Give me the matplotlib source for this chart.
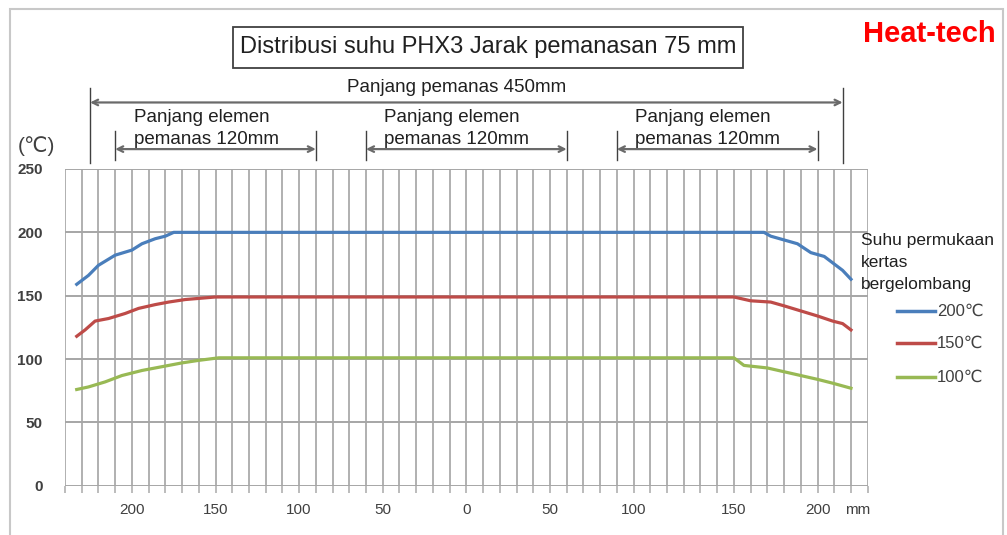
import numpy as np
import matplotlib
matplotlib.use('Agg')
import matplotlib.pyplot as plt
from matplotlib.patches import Rectangle

plt.rcParams['font.family'] = ['Liberation Sans', 'DejaVu Sans']

# === data (x in mm from heater centre, y in degC) ===
blue_x = [-233, -226, -220, -210, -200, -194, -186, -180, -175, 178, 182, 190, 198, 206, 214, 219, 225, 230]
blue_y = [159, 166, 174, 182, 186, 191, 195, 197, 200, 200, 197, 194, 191, 184, 181, 176, 170, 163]

red_x = [-233, -228, -222, -214, -204, -196, -186, -178, -168, -150, -138, 160, 170, 182, 190, 200, 210, 219, 225, 230]
red_y = [118, 123, 130, 132, 136, 140, 143, 145, 147, 149, 149, 149, 146, 145, 142, 138, 134, 130, 128, 123]

green_x = [-233, -226, -216, -206, -194, -182, -170, -160, -148, -138, 160, 166, 180, 190, 200, 210, 219, 230]
green_y = [76, 78, 82, 87, 91, 94, 97, 99, 101, 101, 101, 95, 93, 90, 87, 84, 81, 77]

series_labels = ['200\u2103', '150\u2103', '100\u2103']
colors = ['#4a7ebb', '#be4b48', '#98b954']

xtick_pos = [-200, -150, -100, -50, 0, 50, 100, 160, 210]
xtick_lbl = ['200', '150', '100', '50', '0', '50', '100', '150', '200']
ytick_pos = [0, 50, 100, 150, 200, 250]

heater_span = (-225, 225)
element_spans = [(-210, -90), (-60, 60), (90, 210)]

W, H = 1007, 535
fig = plt.figure(figsize=(W / 100, H / 100), dpi=100)
ax = fig.add_axes([65 / W, 1 - 485.8 / H, (867.7 - 65) / W, (485.8 - 169) / H])

for xs, ys, c, lab in zip([blue_x, red_x, green_x], [blue_y, red_y, green_y], colors, series_labels):
    ax.plot(xs, ys, color=c, lw=2.3, label=lab, solid_joinstyle='round')

ax.set_xlim(-240, 240)
ax.set_ylim(0, 250)
for x in np.arange(-240, 241, 10):
    ax.axvline(x, color='#b0b0b0', lw=1.4, zorder=0)
for y in ytick_pos:
    ax.axhline(y, color='#a6a6a6', lw=1.4, zorder=0)
for s in ax.spines.values():
    s.set_visible(False)

ax.set_xticks(np.arange(-240, 241, 10))
ax.set_xticklabels([])
ax.tick_params(axis='x', length=5, width=1.2, color='#b0b0b0', direction='out')
for p, l in zip(xtick_pos, xtick_lbl):
    ax.text(p, -19, l, ha='center', va='center', fontsize=11, color='#404040')
ax.text(234, -19, 'mm', ha='center', va='center', fontsize=11, color='#404040')

ax.set_yticks(ytick_pos)
ax.tick_params(axis='y', length=0, pad=16, labelsize=11, labelcolor='#404040')
for t in ax.get_yticklabels():
    t.set_fontweight('bold')

ax.text(-257, 268, '(\u2103)', ha='center', va='center', fontsize=15, color='#404040',
        clip_on=False)

# dimension lines above the plot
dim_col = '#404040'
def dim(x0, x1, y, y_lo, y_hi):
    ax.annotate('', xy=(x1, y), xytext=(x0, y), annotation_clip=False,
                arrowprops=dict(arrowstyle='<->', color='#6a6a6a', lw=1.6,
                                shrinkA=0, shrinkB=0, mutation_scale=10))
    for x in (x0, x1):
        ax.plot([x, x], [y_lo, y_hi], color=dim_col, lw=1, clip_on=False)

dim(heater_span[0], heater_span[1], 302.5, 254.8, 314)
ax.text(-6, 314, 'Panjang pemanas 450mm', ha='center', va='center', fontsize=13.5,
        color='#202020', clip_on=False)
for x0, x1 in element_spans:
    dim(x0, x1, 265.7, 257.3, 279.6)
    ax.text(x0 + 11, 291, 'Panjang elemen', ha='left', va='center', fontsize=13.5,
            color='#202020', clip_on=False)
    ax.text(x0 + 11, 273, 'pemanas 120mm', ha='left', va='center', fontsize=13.5,
            color='#202020', clip_on=False)

# title box
fig.add_artist(Rectangle((233 / W, 1 - 68 / H), 510 / W, 41 / H, fill=False,
                         ec='#404040', lw=1.3, transform=fig.transFigure))
fig.text(488 / W, 1 - 47 / H, 'Distribusi suhu PHX3 Jarak pemanasan 75 mm', ha='center',
         va='center', fontsize=17, color='#202020')

fig.text(996 / W, 1 - 34 / H, 'Heat-tech', ha='right', va='center', fontsize=21,
         fontweight='bold', color='#ff0000')

# legend
for i, line in enumerate(['Suhu permukaan', 'kertas', 'bergelombang']):
    fig.text(861 / W, 1 - (240 + 22.5 * i) / H, line, ha='left', va='center',
             fontsize=12.5, color='#202020')
for i, (c, lab) in enumerate(zip(colors, series_labels)):
    yy = 1 - [311, 343, 377][i] / H
    fig.add_artist(plt.Line2D([897 / W, 935 / W], [yy, yy], color=c, lw=2.5))
    fig.text(937 / W, yy, lab, ha='left', va='center', fontsize=12, color='#404040')

# outer frame
fig.add_artist(Rectangle((10 / W, -0.02), (1003 - 10) / W, 1.02 - 9 / H, fill=False,
                         ec='#c8c8c8', lw=1.5, transform=fig.transFigure))

fig.savefig('out.png', dpi=100)
